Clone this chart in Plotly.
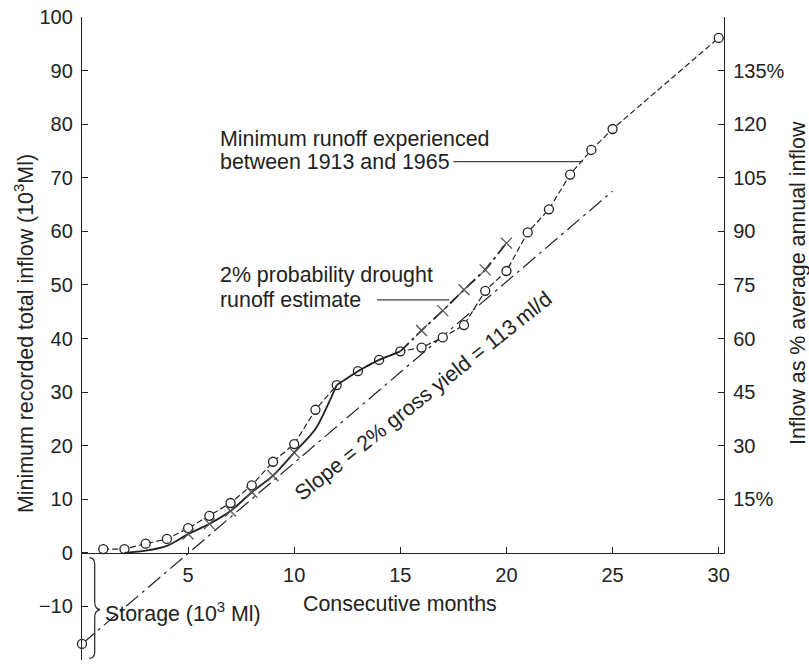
import plotly.graph_objects as go

# ---- data ----
months_min = [1, 2, 3, 4, 5, 6, 7, 8, 9, 10, 11, 12, 13, 14, 15, 16, 17, 18, 19, 20, 21, 22, 23, 24, 25, 30]
inflow_min = [0.7, 0.7, 1.7, 2.6, 4.6, 6.9, 9.3, 12.6, 17.0, 20.3, 26.7, 31.3, 33.9, 36.0, 37.6, 38.3, 40.2,
              42.5, 48.9, 52.6, 59.8, 64.1, 70.6, 75.2, 79.1, 96.1]

months_est_low = [2, 3, 4, 5, 6, 7, 8, 9, 10, 11, 12]
inflow_est_low = [0.0, 0.4, 1.3, 3.5, 5.4, 7.8, 11.3, 14.4, 18.7, 23.1, 31.3]

months_est_mid = [12, 13, 14, 15]
inflow_est_mid = [31.3, 33.9, 36.0, 37.6]

months_est_dash = [15, 16, 17, 18, 19, 20]
inflow_est_dash = [37.6, 41.5, 45.2, 49.1, 52.8, 57.8]

months_cross = [5, 6, 7, 8, 9, 10, 16, 17, 18, 19, 20]
inflow_cross = [3.5, 5.4, 7.8, 11.3, 14.4, 18.7, 41.5, 45.2, 49.1, 52.8, 57.8]

slope_months = [0, 25]
slope_inflow = [-17, 67.5]

storage_month = [0]
storage_value = [-17]

left_ticks = [-20, -10, 0, 10, 20, 30, 40, 50, 60, 70, 80, 90, 100]
right_ticks = [15, 30, 45, 60, 75, 90, 105, 120, 135]
right_labels = ["15%", "30", "45", "60", "75", "90", "105", "120", "135%"]
x_ticks = [5, 10, 15, 20, 25, 30]

INK = "#222222"
FONT = "Liberation Sans, Arial, Helvetica, sans-serif"
FS_TICK = 20
FS_TEXT = 21.4

fig = go.Figure()

# slope line (dash-dot)
fig.add_trace(go.Scatter(x=slope_months, y=slope_inflow, mode="lines",
                         line=dict(color=INK, width=1.2, dash="16px,5px,3px,5px"),
                         hoverinfo="skip", showlegend=False, cliponaxis=False))
# minimum runoff experienced
fig.add_trace(go.Scatter(x=months_min, y=inflow_min, mode="lines+markers",
                         line=dict(color=INK, width=1.2, dash="6px,3px"),
                         marker=dict(symbol="circle", size=9, color="white",
                                     line=dict(color=INK, width=1.3)),
                         hoverinfo="skip", showlegend=False, cliponaxis=False))
# 2% probability estimate: solid lower part (smooth)
fig.add_trace(go.Scatter(x=months_est_low, y=inflow_est_low, mode="lines",
                         line=dict(color=INK, width=1.8, shape="spline", smoothing=0.7),
                         hoverinfo="skip", showlegend=False))
# 2% probability estimate: solid middle part
fig.add_trace(go.Scatter(x=months_est_mid, y=inflow_est_mid, mode="lines",
                         line=dict(color=INK, width=1.8, shape="spline", smoothing=0.5),
                         hoverinfo="skip", showlegend=False))
# 2% probability estimate: dash-dot part
fig.add_trace(go.Scatter(x=months_est_dash, y=inflow_est_dash, mode="lines",
                         line=dict(color=INK, width=1.8, dash="12px,4px,3px,4px"),
                         hoverinfo="skip", showlegend=False))
# crosses
fig.add_trace(go.Scatter(x=months_cross, y=inflow_cross, mode="markers",
                         marker=dict(symbol="x-thin-open", size=11, color="#555555",
                                     line=dict(color="#555555", width=1.3)),
                         hoverinfo="skip", showlegend=False))
# storage origin point
fig.add_trace(go.Scatter(x=storage_month, y=storage_value, mode="markers",
                         marker=dict(symbol="circle", size=9, color="white",
                                     line=dict(color=INK, width=1.3)),
                         hoverinfo="skip", showlegend=False, cliponaxis=False))
# dummy trace for the right axis
fig.add_trace(go.Scatter(x=[None], y=[None], xaxis="x", yaxis="y2",
                         showlegend=False, hoverinfo="skip"))

zero_frac = 20 / 120

fig.update_layout(
    width=809, height=665,
    margin=dict(l=82, r=85, t=17, b=5),
    paper_bgcolor="white", plot_bgcolor="rgba(0,0,0,0)",
    font=dict(family=FONT, size=FS_TICK, color=INK),
    showlegend=False,
    xaxis=dict(range=[0, 30.25], domain=[0, 1], anchor="y2",
               showgrid=False, zeroline=False, showline=True, linecolor=INK, linewidth=1.3,
               ticks="inside", ticklen=6, tickwidth=1.2, tickcolor=INK,
               tickvals=x_ticks, ticktext=[str(v) for v in x_ticks],
               ticklabelstandoff=4),
    yaxis=dict(range=[-20, 100], domain=[0, 1], anchor="x",
               showgrid=False, zeroline=False, showline=True, linecolor=INK, linewidth=1.3,
               ticks="inside", ticklen=6, tickwidth=1.2, tickcolor=INK,
               tickvals=left_ticks, ticktext=[str(v).replace("-", "\u2212") for v in left_ticks],
               ticklabelstandoff=4),
    yaxis2=dict(range=[0, 150], domain=[zero_frac, 1], anchor="x", side="right",
                showgrid=False, zeroline=False, showline=True, linecolor=INK, linewidth=1.3,
                ticks="inside", ticklen=6, tickwidth=1.2, tickcolor=INK,
                tickvals=right_ticks, ticktext=right_labels, ticklabelstandoff=4),
)

plot_w = 809 - 82 - 85
plot_h = 665 - 17 - 5


def px_x(p):
    return (p - 82) / plot_w


def px_y(p):
    return 1 - (p - 17) / plot_h


tf = dict(family=FONT, size=FS_TEXT, color=INK)
ann = [
    dict(x=6.4, y=77.2, text="Minimum runoff experienced", xanchor="left", yanchor="middle"),
    dict(x=6.4, y=73.0, text="between 1913 and 1965", xanchor="left", yanchor="middle"),
    dict(x=6.4, y=51.9, text="2% probability drought", xanchor="left", yanchor="middle"),
    dict(x=6.4, y=47.2, text="runoff estimate", xanchor="left", yanchor="middle"),
    dict(x=16.1, y=29.2, text="Slope = 2% gross yield = 113\u2009ml/d", textangle=-38.5,
         xanchor="center", yanchor="middle"),
    dict(x=1.0, y=-11, text="Storage (10<sup>3</sup> Ml)", xanchor="left", yanchor="middle"),
    dict(x=15.0, y=-9.5, text="Consecutive months", xanchor="center", yanchor="middle"),
    dict(x=px_x(24), y=px_y(334), xref="paper", yref="paper", xanchor="center", yanchor="middle",
         text="Minimum recorded total inflow (10<sup>3</sup>Ml)", textangle=-90),
    dict(x=px_x(798), y=px_y(283), xref="paper", yref="paper", xanchor="center", yanchor="middle",
         text="Inflow as % average annual inflow", textangle=-90),
]
for a in ann:
    a["showarrow"] = False
    a["font"] = tf
fig.update_layout(annotations=ann)

shapes = [
    # leader lines
    dict(type="line", x0=17.5, x1=23.6, y0=73.0, y1=73.0, xref="x", yref="y",
         line=dict(color="#444444", width=1.2)),
    dict(type="line", x0=13.9, x1=17.3, y0=47.2, y1=47.2, xref="x", yref="y",
         line=dict(color="#444444", width=1.2)),
    # storage brace
    dict(type="path", xref="x", yref="y",
         path="M 0.35,-0.9 Q 0.6,-0.9 0.6,-2.2 L 0.6,-9.2 Q 0.6,-10.4 0.85,-10.6 "
              "Q 0.6,-10.8 0.6,-12 L 0.6,-18.4 Q 0.6,-19.7 0.35,-19.7",
         line=dict(color=INK, width=1.2)),
]
fig.update_layout(shapes=shapes)

fig.write_html("out.html")
